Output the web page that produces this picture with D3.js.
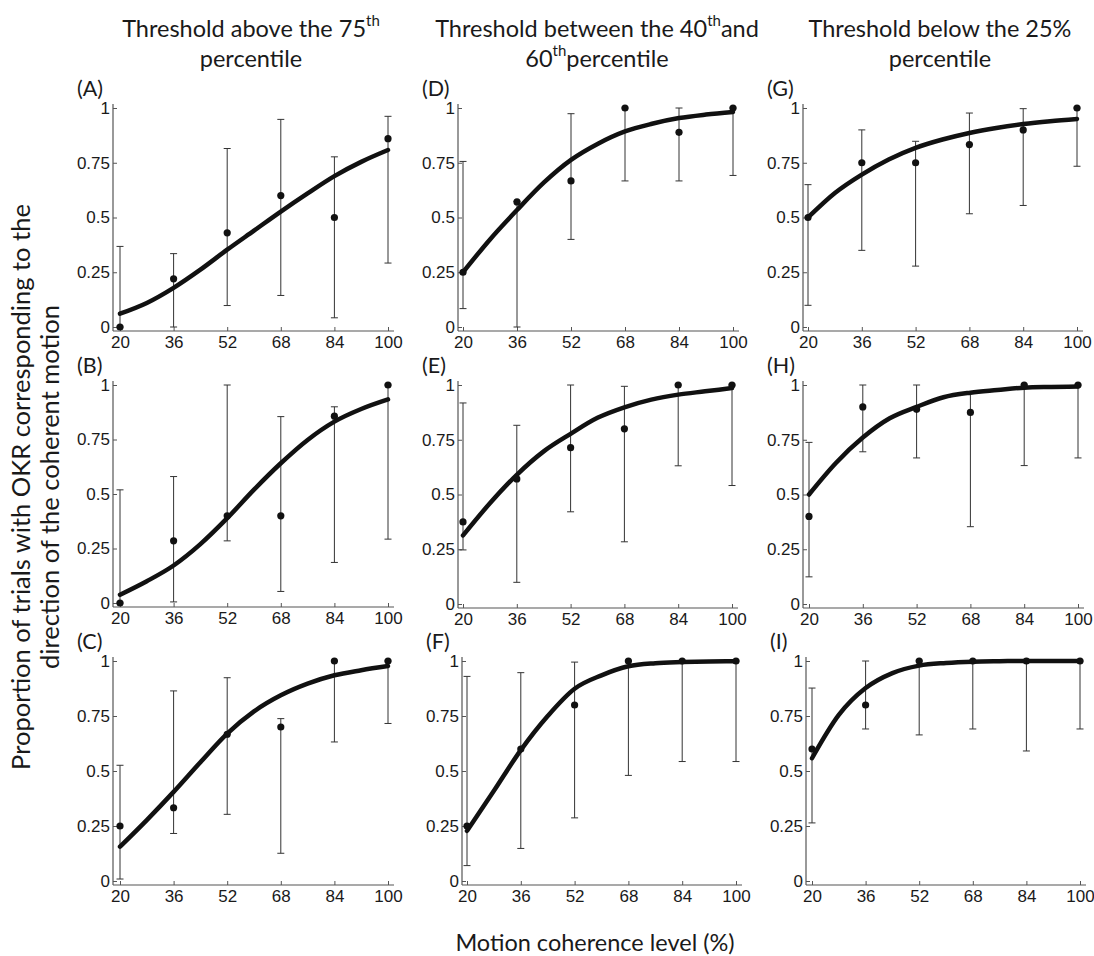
<!DOCTYPE html>
<html><head><meta charset="utf-8">
<script src="https://cdn.jsdelivr.net/npm/d3@7"></script>
<style>body{margin:0;background:#fff} svg{display:block}</style>
</head><body><svg id="c" width="1094" height="956"></svg>
<script>
// ---------- data ----------
const panelLabels = ["(A)","(B)","(C)","(D)","(E)","(F)","(G)","(H)","(I)"];
const coherence = [20,36,52,68,84,100];
const xTicks = [20,36,52,68,84,100];
const yTicks = [0,0.25,0.5,0.75,1];
const proportion = [
  [0,0.22,0.43,0.60,0.50,0.86],
  [0,0.285,0.40,0.40,0.857,1],
  [0.25,0.333,0.667,0.70,1,1],
  [0.25,0.571,0.667,1,0.889,1],
  [0.375,0.571,0.714,0.80,1,1],
  [0.25,0.60,0.80,1,1,1],
  [0.50,0.75,0.75,0.833,0.90,1],
  [0.40,0.90,0.889,0.875,1,1],
  [0.60,0.80,1,1,1,1]
];
const errLow = [
  [0,0,0.098,0.144,0.042,0.292],
  [0,0.005,0.285,0.053,0.186,0.293],
  [0.009,0.216,0.303,0.126,0.632,0.716],
  [0.084,0,0.40,0.667,0.667,0.692],
  [0.247,0.099,0.421,0.284,0.631,0.541],
  [0.07,0.148,0.287,0.48,0.543,0.543],
  [0.099,0.35,0.278,0.517,0.555,0.734],
  [0.124,0.695,0.667,0.353,0.632,0.667],
  [0.264,0.691,0.664,0.691,0.591,0.691]
];
const errHigh = [
  [0.368,0.335,0.815,0.948,0.777,0.962],
  [0.519,0.58,1,0.855,0.90,1],
  [0.526,0.864,0.924,0.738,1,1],
  [0.756,0.573,0.974,1,1,1],
  [0.918,0.816,1,0.994,1,1],
  [0.93,0.947,0.995,1,1,1],
  [0.65,0.90,0.848,0.977,0.997,1],
  [0.738,1,1,0.962,1,1],
  [0.877,1,1,1,1,1]
];
const fitX = [20,28,36,44,52,60,68,76,84,92,100];
const fitY = [
  [0.061,0.11,0.179,0.262,0.353,0.44,0.527,0.61,0.689,0.754,0.808],
  [0.038,0.10,0.172,0.27,0.389,0.52,0.641,0.748,0.832,0.89,0.934],
  [0.156,0.277,0.405,0.54,0.67,0.771,0.844,0.897,0.935,0.958,0.977],
  [0.25,0.40,0.534,0.66,0.763,0.837,0.893,0.928,0.954,0.97,0.982],
  [0.313,0.46,0.59,0.697,0.777,0.85,0.898,0.933,0.956,0.971,0.986],
  [0.228,0.41,0.595,0.75,0.874,0.935,0.976,0.99,0.995,0.998,0.999],
  [0.5,0.612,0.696,0.765,0.818,0.856,0.886,0.909,0.927,0.94,0.95],
  [0.5,0.644,0.76,0.848,0.9,0.944,0.965,0.977,0.988,0.991,0.993],
  [0.558,0.755,0.877,0.945,0.979,0.991,0.997,0.999,1,1,1]
];
const colTitleLine1 = [["Threshold above the 75","th",""],["Threshold between the 40","th","and"],["Threshold below the 25%","",""]];
const colTitleLine2 = [["","","percentile"],["60","th","percentile"],["","","percentile"]];
const yLabelLines = ["Proportion of trials with OKR corresponding to the","direction of the coherent motion"];
const xLabel = "Motion coherence level (%)";

// ---------- layout ----------
const layout = [
  {ax:113,x0:120,x1:388,y0:327,y1:108},
  {ax:113,x0:120,x1:388,y0:603,y1:385},
  {ax:113,x0:120,x1:388,y0:881,y1:661},
  {ax:458,x0:463,x1:733,y0:327,y1:108},
  {ax:458,x0:463,x1:732,y0:604,y1:385},
  {ax:462,x0:467,x1:736,y0:881,y1:661},
  {ax:803,x0:808,x1:1077,y0:327,y1:108},
  {ax:803,x0:809,x1:1078,y0:604,y1:385},
  {ax:806,x0:812,x1:1080,y0:881,y1:661}
];
const titleCenters = [251,597,940];
const sansUI = "Lato, 'Open Sans', sans-serif";
const sansAx = "'Liberation Sans', Arial, sans-serif";
const ink = "#1a1a1a";

const svg = d3.select("#c");

// column titles
colTitleLine1.forEach((parts,c)=>{
  [[parts,36.5],[colTitleLine2[c],67]].forEach(([p,yy])=>{
    const t = svg.append("text").attr("x",titleCenters[c]).attr("y",yy)
      .attr("text-anchor","middle").attr("font-family",sansUI).attr("font-size",23.5).attr("fill",ink);
    if(p[0]) t.append("tspan").text(p[0]);
    if(p[1]) t.append("tspan").attr("dy",-11).attr("font-size",15).text(p[1]);
    if(p[2]) t.append("tspan").attr("dy",p[1]?11:0).text(p[2]);
  });
});

// axis labels
svg.append("text").attr("x",595).attr("y",951).attr("text-anchor","middle")
  .attr("font-family",sansUI).attr("font-size",23.5).attr("fill",ink).text(xLabel);
yLabelLines.forEach((s,i)=>{
  svg.append("text").attr("transform",`translate(${30+i*29},487) rotate(-90)`)
    .attr("text-anchor","middle").attr("font-family",sansUI).attr("font-size",25.5).attr("fill",ink).text(s);
});

layout.forEach((L,i)=>{
  const x = d3.scaleLinear().domain([20,100]).range([L.x0,L.x1]);
  const y = d3.scaleLinear().domain([0,1]).range([L.y0,L.y1]);
  const g = svg.append("g");

  // axis lines
  g.append("line").attr("x1",L.ax).attr("x2",L.ax).attr("y1",L.y0+4).attr("y2",L.y1-4)
    .attr("stroke","#555").attr("stroke-width",1.2);
  g.append("line").attr("x1",L.ax).attr("x2",L.x1+6).attr("y1",L.y0+4).attr("y2",L.y0+4)
    .attr("stroke","#555").attr("stroke-width",1.2);

  const ya = g.append("g").attr("transform",`translate(${L.ax},0)`)
    .call(d3.axisLeft(y).tickValues(yTicks).tickSize(-4).tickPadding(3).tickFormat(d=>String(d)));
  const xa = g.append("g").attr("transform",`translate(0,${L.y0+4})`)
    .call(d3.axisBottom(x).tickValues(xTicks).tickSize(-4).tickPadding(5).tickFormat(d=>String(d)));
  [ya,xa].forEach(a=>{
    a.select(".domain").remove();
    a.selectAll("line").attr("stroke","#555");
    a.selectAll("text").attr("font-family",sansAx).attr("font-size",17).attr("fill",ink);
  });

  // panel label
  svg.append("text").attr("x",L.ax-36).attr("y",L.y1-12).attr("font-family",sansUI)
    .attr("font-size",21.5).attr("fill",ink).text(panelLabels[i]);

  // error bars
  coherence.forEach((c,j)=>{
    const xx = x(c), lo = y(errLow[i][j]), hi = y(errHigh[i][j]);
    g.append("line").attr("x1",xx).attr("x2",xx).attr("y1",lo).attr("y2",hi).attr("stroke","#333").attr("stroke-width",1);
    [lo,hi].forEach(v=>g.append("line").attr("x1",xx-3.5).attr("x2",xx+3.5).attr("y1",v).attr("y2",v)
      .attr("stroke","#333").attr("stroke-width",1));
  });

  // fitted curve
  const line = d3.line().x(d=>x(d[0])).y(d=>y(d[1])).curve(d3.curveMonotoneX);
  g.append("path").datum(fitX.map((fx,k)=>[fx,fitY[i][k]])).attr("d",line)
    .attr("fill","none").attr("stroke","#111").attr("stroke-width",4.5).attr("stroke-linecap","round");

  // points
  g.selectAll("circle.p").data(coherence).enter().append("circle")
    .attr("cx",c=>x(c)).attr("cy",(c,j)=>y(proportion[i][j])).attr("r",3.6).attr("fill","#111");
});
</script></body></html>
